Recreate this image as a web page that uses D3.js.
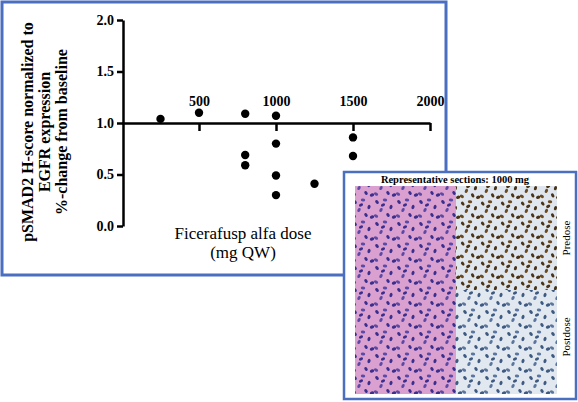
<!DOCTYPE html>
<html>
<head>
<meta charset="utf-8">
<script src="https://cdn.jsdelivr.net/npm/d3@7"></script>
<style>
  body { margin: 0; background: #fff; }
  svg text { font-family: "Liberation Serif", "Times New Roman", serif !important; }
</style>
</head>
<body>
<div id="chart"></div>
<script>
// data
var doses = [250, 500, 800, 800, 800, 1000, 1000, 1000, 1000, 1250, 1500, 1500];
var ratios = [1.04, 1.10, 1.09, 0.69, 0.59, 1.07, 0.80, 0.49, 0.30, 0.41, 0.86, 0.68];
var xTicks = [500, 1000, 1500, 2000];
var yTicks = [0.0, 0.5, 1.0, 1.5, 2.0];
var yLabelLines = ["pSMAD2 H-score normalized to", "EGFR expression", "%-change from baseline"];
var panelLabels = ["Predose", "Postdose"];

var svg = d3.select("#chart").append("svg")
  .attr("width", 578).attr("height", 402);

// outer frame
svg.append("rect").attr("x", 2).attr("y", 2).attr("width", 444).attr("height", 273)
  .attr("fill", "#fff").attr("stroke", "#4a6fc0").attr("stroke-width", 3);

var x = d3.scaleLinear().domain([0, 2000]).range([122, 430]);
var y = d3.scaleLinear().domain([0, 2]).range([226, 20]);

// y axis
var yAxis = svg.append("g")
  .attr("transform", `translate(${x(0) + 1},0)`)
  .call(d3.axisLeft(y).tickValues(yTicks).tickFormat(d3.format(".1f")).tickSize(6).tickSizeOuter(0));
yAxis.select(".domain").attr("stroke-width", 2.5);
yAxis.selectAll(".tick line").attr("stroke-width", 2.5);
yAxis.selectAll("text").style("font-size", "14px").style("font-weight", "bold");

// x axis at y = 1.0, labels above
var xAxis = svg.append("g")
  .attr("transform", `translate(0,${y(1)})`)
  .call(d3.axisBottom(x).tickValues(xTicks).tickSize(8).tickSizeOuter(0).tickFormat(d3.format("d")));
xAxis.select(".domain").attr("stroke-width", 2.5);
xAxis.selectAll(".tick line").attr("stroke-width", 2.5);
xAxis.selectAll("text").attr("y", -17).attr("dy", "0")
  .style("font-size", "14px").style("font-weight", "bold");

// points
svg.selectAll("circle.pt").data(doses).enter().append("circle")
  .attr("class", "pt")
  .attr("cx", d => x(d))
  .attr("cy", (d, i) => y(ratios[i]))
  .attr("r", 4.2).attr("fill", "#000");

// y label
var yl = svg.append("text").attr("transform", "translate(0,132) rotate(-90)")
  .attr("text-anchor", "middle").style("font-size", "16px").style("font-weight", "bold");
yLabelLines.forEach(function(t, i) {
  yl.append("tspan").attr("x", 0).attr("y", [33, 50, 67][i]).text(t);
});

// x label
svg.append("text").attr("x", 243).attr("y", 239).attr("text-anchor", "middle")
  .style("font-size", "17px").text("Ficerafusp alfa dose");
svg.append("text").attr("x", 243).attr("y", 258).attr("text-anchor", "middle")
  .style("font-size", "17px").text("(mg QW)");

// inset
var defs = svg.append("defs");
function cellPattern(id, bg, nuc, nuc2, size) {
  var p = defs.append("pattern").attr("id", id).attr("patternUnits", "userSpaceOnUse")
    .attr("width", size).attr("height", size);
  p.append("rect").attr("width", size).attr("height", size).attr("fill", bg);
  var spots = [[3, 4, 0], [11, 2, 1], [17, 9, 0], [7, 12, 1], [14, 17, 0], [2, 18, 1], [20, 19, 0], [9, 7, 0]];
  spots.forEach(function(s) {
    p.append("ellipse").attr("cx", s[0] * size / 22).attr("cy", s[1] * size / 22)
      .attr("rx", 2.2).attr("ry", 1.5).attr("transform", `rotate(${s[0] * 17} ${s[0] * size / 22} ${s[1] * size / 22})`)
      .attr("fill", s[2] ? nuc2 : nuc);
  });
}
cellPattern("he", "#d9a0d0", "#3b2e8c", "#5a4aa8", 22);
cellPattern("ihcPre", "#dfe6ee", "#4a3418", "#6b4a20", 20);
cellPattern("ihcPost", "#e2e8ef", "#3e5a80", "#5a76a0", 22);

svg.append("rect").attr("x", 344).attr("y", 172).attr("width", 232).attr("height", 227)
  .attr("fill", "#fff").attr("stroke", "#4a6fc0").attr("stroke-width", 2.5);
svg.append("text").attr("x", 455).attr("y", 183).attr("text-anchor", "middle")
  .style("font-size", "10.5px").style("font-weight", "bold").text("Representative sections: 1000 mg");

var panels = [
  [355, 186, "url(#he)"], [456, 186, "url(#ihcPre)"],
  [355, 290, "url(#he)"], [456, 290, "url(#ihcPost)"]
];
svg.selectAll("rect.panel").data(panels).enter().append("rect")
  .attr("class", "panel")
  .attr("x", d => d[0]).attr("y", d => d[1])
  .attr("width", 101).attr("height", 104)
  .attr("fill", d => d[2]);

panelLabels.forEach(function(t, i) {
  svg.append("text").attr("transform", `translate(570,${[238, 337][i]}) rotate(-90)`)
    .attr("text-anchor", "middle").style("font-size", "11px").text(t);
});
</script>
</body>
</html>
